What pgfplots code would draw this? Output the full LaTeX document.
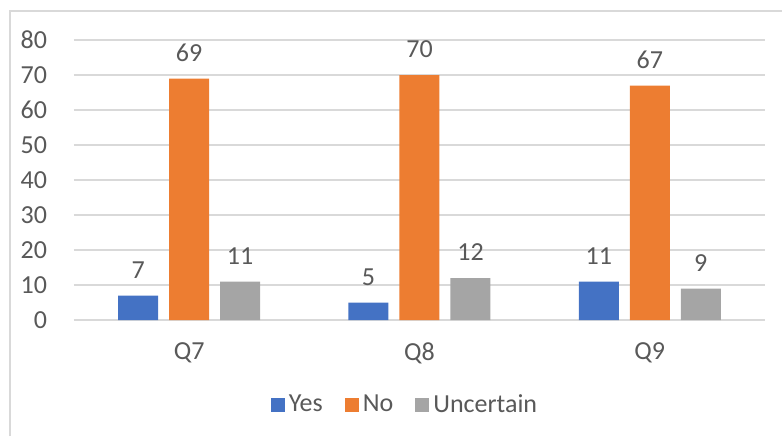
\documentclass[border=0pt]{standalone}
\usepackage{pgfplots}
\pgfplotsset{compat=1.18}
\usepackage{fontspec}
\setmainfont{Carlito}
\definecolor{cYes}{HTML}{4472C4}
\definecolor{cNo}{HTML}{ED7D31}
\definecolor{cUnc}{HTML}{A5A5A5}
\definecolor{txt}{HTML}{595959}
\definecolor{grd}{HTML}{D9D9D9}
\begin{document}
\begin{tikzpicture}[x=0.5pt,y=0.5pt]
% px (X,Y) -> ((X-74),(320-Y))
\useasboundingbox (-74,320) rectangle (708,-116);
\draw[grd, line width=1pt] (-64,-116) -- (-64,309) -- (708,309);
\begin{axis}[
  at={(0,0)}, anchor=south west,
  scale only axis, width=345.5pt, height=140pt,
  ymin=0, ymax=80, xmin=-0.5, xmax=2.5,
  ytick={0,10,...,80},
  xtick=data, xticklabels={Q7,Q8,Q9},
  axis line style={draw=none},
  major tick length=0pt,
  ymajorgrids, grid style={grd, line width=0.8pt},
  ybar=5.5pt, bar width=20pt,
  tick label style={font=\fontsize{13}{15}\selectfont, text=txt},
  /pgf/number format/assume math mode=true,
  yticklabel style={xshift=-10pt},
  xticklabel style={yshift=-8pt},
  nodes near coords,
  every node near coord/.append style={font=\fontsize{13}{15}\selectfont, text=txt, yshift=5pt},
  legend style={at={(0.4805,-0.3036)}, anchor=center, draw=none, legend columns=3,
    font=\fontsize{13}{15}\selectfont, text=txt,
    /tikz/every even column/.append style={column sep=9pt}},
  legend image code/.code={\fill[#1] (0pt,-3.5pt) rectangle (7pt,3.5pt);},
]
\addplot[fill=cYes, draw=none] coordinates {(0,7) (1,5) (2,11)};
\addplot[fill=cNo, draw=none] coordinates {(0,69) (1,70) (2,67)};
\addplot[fill=cUnc, draw=none] coordinates {(0,11) (1,12) (2,9)};
\legend{Yes,No,Uncertain}
\end{axis}
\end{tikzpicture}
\end{document}
